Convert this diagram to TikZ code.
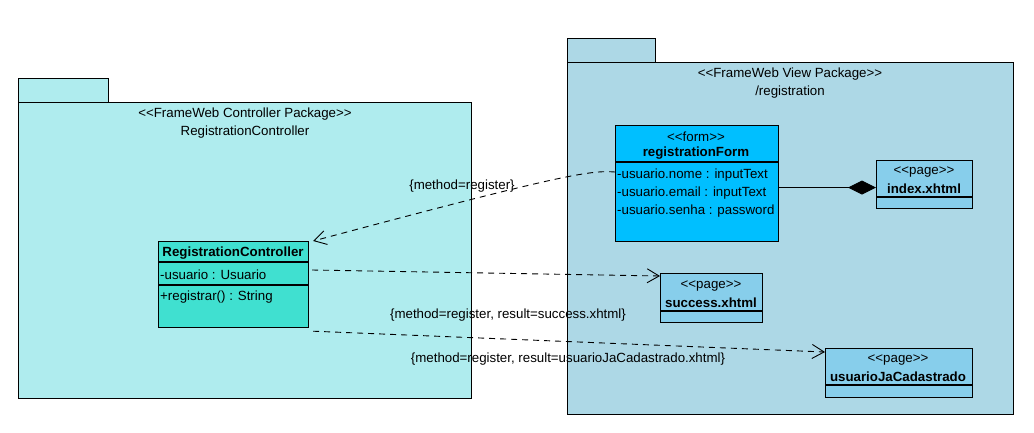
\documentclass[tikz,border=0pt]{standalone}
\usepackage{fontspec}
\setmainfont{Liberation Sans}
\usetikzlibrary{arrows.meta}

\definecolor{ctrlpkg}{RGB}{175,236,238}
\definecolor{viewpkg}{RGB}{173,216,230}
\definecolor{ctrlfill}{RGB}{64,224,208}
\definecolor{formfill}{RGB}{0,191,255}
\definecolor{pagefill}{RGB}{135,206,235}

\newcommand{\stereo}[1]{<\kern0pt<#1>\kern0pt>}

\tikzset{
  pkg/.style={draw, line width=1pt},
  umlclass/.style={draw, line width=1.2pt, anchor=north west, inner sep=0pt},
  txt/.style={font=\fontsize{13.3}{15}\selectfont, inner sep=0pt, yshift=-1.5pt},
  cname/.style={txt, font=\fontsize{13.3}{15}\selectfont\bfseries},
  attr/.style={txt, anchor=west},
  dep/.style={dash pattern=on 6pt off 5pt, line width=0.9pt,
    -{Straight Barb[length=12pt,width=14pt,line width=0.9pt]}},
}

\begin{document}
\begin{tikzpicture}[x=1pt,y=-1pt]
  \useasboundingbox[fill=white] (0,0) rectangle (1034,432);

  % controller package
  \draw[pkg, fill=ctrlpkg] (18,78) rectangle (108,102);
  \draw[pkg, fill=ctrlpkg] (18,102) rectangle (471,398);
  \node[txt] (ctrlpkgst) at (245,113) {\stereo{FrameWeb Controller Package}};
  \node[txt] (ctrlpkgname) at (245,131) {RegistrationController};

  % view package
  \draw[pkg, fill=viewpkg] (567,38) rectangle (655,62);
  \draw[pkg, fill=viewpkg] (567,62) rectangle (1013,414);
  \node[txt] (viewpkgst) at (790,73) {\stereo{FrameWeb View Package}};
  \node[txt] (viewpkgname) at (790,91) {/registration};

  % RegistrationController
  \node[umlclass, fill=ctrlfill, minimum width=150pt, minimum height=86pt] (ctrl) at (158,241) {};
  \draw[line width=1.2pt] (158,262) -- (308,262);
  \draw[line width=1.2pt] (158,285) -- (308,285);
  \node[cname] (ctrlname) at (233,252) {RegistrationController};
  \node[attr] (ctrlattr) at (160,273) {-usuario : Usuario};
  \node[attr] (ctrlop) at (160,296) {+registrar() : String};

  % registrationForm
  \node[umlclass, fill=formfill, minimum width=163pt, minimum height=116pt] (form) at (615,125) {};
  \draw[line width=1.2pt] (615,162) -- (778,162);
  \node[txt] (formst) at (696,135) {\stereo{form}};
  \node[cname] (formname) at (696,152) {registrationForm};
  \node[attr] (formnome) at (617,174) {-usuario.nome : inputText};
  \node[attr] (formemail) at (617,192) {-usuario.email : inputText};
  \node[attr] (formsenha) at (617,210) {-usuario.senha : password};

  % pages
  \node[umlclass, fill=pagefill, minimum width=96pt, minimum height=48pt] (index) at (876,160) {};
  \draw[line width=1.2pt] (876,197) -- (972,197);
  \node[txt] (indexst) at (924,170) {\stereo{page}};
  \node[cname] (indexname) at (924,187) {index.xhtml};

  \node[umlclass, fill=pagefill, minimum width=102pt, minimum height=49pt] (succ) at (660,273) {};
  \draw[line width=1.2pt] (660,311) -- (762,311);
  \node[txt] (succst) at (711,284) {\stereo{page}};
  \node[cname] (succname) at (711,301) {success.xhtml};

  \node[umlclass, fill=pagefill, minimum width=147pt, minimum height=49pt] (usu) at (825,348) {};
  \draw[line width=1.2pt] (825,385) -- (972,385);
  \node[txt] (usust) at (898,358) {\stereo{page}};
  \node[cname] (usuname) at (898,375) {usuarioJaCadastrado};

  % connectors
  \draw[dep] ([yshift=-47pt]form.north west) .. controls (590,170) and (560,175) .. ([xshift=4pt]ctrl.north east);
  \node[txt] (lblreg) at (462,185) {\{method=register\}};

  \draw[dep] ([shift={(3pt,-29pt)}]ctrl.north east) -- ([yshift=-3pt]succ.north west);
  \node[txt] (lblsucc) at (508,314) {\{method=register, result=success.xhtml\}};

  \draw[dep] ([shift={(4pt,-3pt)}]ctrl.south east) -- ([yshift=-4pt]usu.north west);
  \node[txt] (lblusu) at (568,358) {\{method=register, result=usuarioJaCadastrado.xhtml\}};

  \draw[line width=0.9pt, -{Diamond[length=28pt,width=14pt]}] ([yshift=-4pt]form.east) -- ([yshift=-3pt]index.west);
\end{tikzpicture}
\end{document}
